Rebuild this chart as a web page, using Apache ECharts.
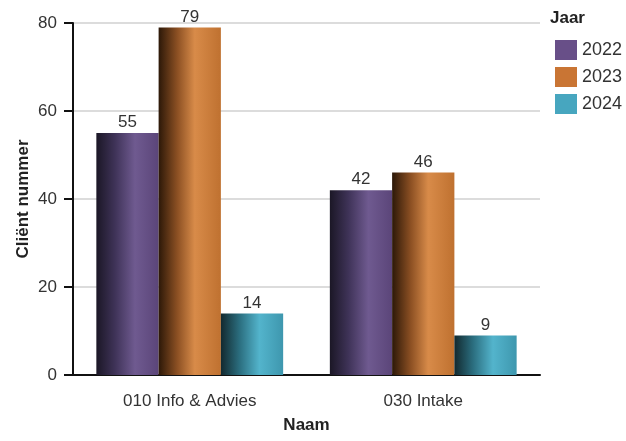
<!DOCTYPE html>
<html>
<head>
<meta charset="utf-8">
<script src="https://cdn.jsdelivr.net/npm/echarts@6/dist/echarts.min.js"></script>
<style>html,body{margin:0;padding:0;background:#fff}#c{width:626px;height:441px}</style>
</head>
<body>
<div id="c"></div>
<script>
const categories = ['010 Info & Advies', '030 Intake'];
const years = ['2022', '2023', '2024'];
const values2022 = [55, 42];
const values2023 = [79, 46];
const values2024 = [14, 9];
const yTicks = [0, 20, 40, 60, 80];

const solid = ['#684f88', '#c97534', '#47a6bf'];
const grads = [
  [[0,'#1b1726'],[0.3,'#3f3358'],[0.62,'#6f5a90'],[1,'#5b4579']],
  [[0,'#2c1808'],[0.3,'#8c5023'],[0.58,'#d88b49'],[1,'#bf7130']],
  [[0,'#12292f'],[0.3,'#2b6e7f'],[0.62,'#53b4cc'],[1,'#3e97ae']]
];
function grad(i){
  return new echarts.graphic.LinearGradient(0,0,1,0, grads[i].map(s=>({offset:s[0],color:s[1]})));
}
const seriesVals = [values2022, values2023, values2024];
const chart = echarts.init(document.getElementById('c'));
chart.setOption({
  animation:false,
  textStyle:{fontFamily:'Liberation Sans, Arial, sans-serif'},
  title:{text:'Jaar', left:545, top:5, textStyle:{fontSize:17, fontWeight:'bold', color:'#222'}},
  legend:{
    orient:'vertical', left:550, top:35, itemWidth:22, itemHeight:20, itemGap:7,
    textStyle:{fontSize:18, color:'#333'},
    data: years.map((y,i)=>({name:y, icon:'rect', itemStyle:{color:solid[i]}}))
  },
  grid:{left:73, right:86, top:23, bottom:66},
  xAxis:{
    type:'category', data:categories,
    name:'Naam', nameLocation:'middle', nameGap:42, nameMoveOverlap:false,
    nameTextStyle:{fontSize:17, fontWeight:'bold', color:'#222'},
    axisLine:{lineStyle:{color:'#111', width:2}},
    axisTick:{alignWithLabel:true, length:8, lineStyle:{color:'#333'}},
    axisLabel:{fontSize:17, color:'#333', margin:18}
  },
  yAxis:{
    type:'value', min:yTicks[0], max:yTicks[yTicks.length-1], interval:20,
    name:'Cliënt nummer', nameLocation:'middle', nameGap:41, nameMoveOverlap:false,
    nameTextStyle:{fontSize:17, fontWeight:'bold', color:'#222'},
    axisLine:{show:true, lineStyle:{color:'#111', width:2}},
    axisTick:{show:true, length:9, lineStyle:{color:'#111', width:2}},
    axisLabel:{fontSize:17, color:'#333', margin:16},
    splitLine:{lineStyle:{color:'#dcdcdc', width:2}}
  },
  series: years.map((y,i)=>({
    name:y, type:'bar', data:seriesVals[i],
    barGap:'0%', barCategoryGap:'20%',
    itemStyle:{color:grad(i)},
    label:{show:true, position:'top', fontSize:17, color:'#333', distance:2}
  }))
});
</script>
</body>
</html>
